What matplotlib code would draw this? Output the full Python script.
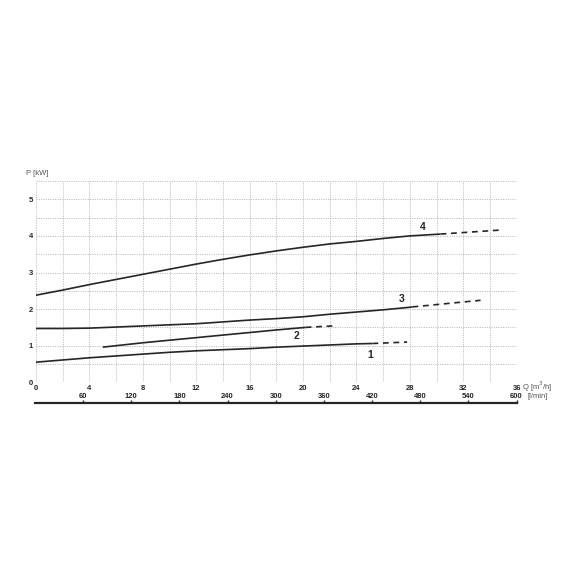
import numpy as np
import matplotlib
matplotlib.use('Agg')
import matplotlib.pyplot as plt

plt.rcParams['font.family'] = ['Liberation Sans', 'DejaVu Sans']

# curve readings: Q [m3/h], P [kW]
q1 = [0, 2, 4, 6, 8, 10, 12, 14, 16, 18, 20, 22, 24, 25.2]
p1 = [0.55, 0.61, 0.67, 0.72, 0.77, 0.82, 0.86, 0.89, 0.92, 0.96, 0.99, 1.02, 1.05, 1.06]
q1_ext = [25.2, 27.8]
p1_ext = [1.06, 1.10]

q2 = [5.0, 6, 8, 10, 12, 14, 16, 18, 20.2]
p2 = [0.96, 1.00, 1.08, 1.15, 1.22, 1.29, 1.36, 1.43, 1.50]
q2_ext = [20.2, 22.2]
p2_ext = [1.50, 1.54]

q3 = [0, 2, 4, 6, 8, 10, 12, 14, 16, 18, 20, 22, 24, 26, 28, 28.2]
p3 = [1.47, 1.47, 1.48, 1.51, 1.54, 1.57, 1.60, 1.65, 1.70, 1.74, 1.79, 1.86, 1.92, 1.98, 2.05, 2.06]
q3_ext = [28.2, 33.3]
p3_ext = [2.06, 2.24]

q4 = [0, 2, 4, 6, 8, 10, 12, 14, 16, 18, 20, 22, 24, 26, 28, 30.3]
p4 = [2.38, 2.52, 2.67, 2.81, 2.95, 3.09, 3.23, 3.36, 3.48, 3.59, 3.69, 3.78, 3.85, 3.93, 4.00, 4.05]
q4_ext = [30.3, 34.8]
p4_ext = [4.05, 4.16]

curve_names = ['1', '2', '3', '4']
label_q = [25.0, 19.5, 27.4, 29.0]
label_p = [0.74, 1.27, 2.28, 4.25]

q_ticks = list(range(0, 37, 4))
p_ticks = [0, 1, 2, 3, 4, 5]
lmin_ticks = list(range(60, 601, 60))

W = H = 570.0
fig = plt.figure(figsize=(5.7, 5.7), dpi=100)
ax = fig.add_axes([36 / W, 1 - 382.3 / H, 480.6 / W, 201.3 / H])

col = '#262626'
for q, p, qe, pe in [(q1, p1, q1_ext, p1_ext), (q2, p2, q2_ext, p2_ext),
                     (q3, p3, q3_ext, p3_ext), (q4, p4, q4_ext, p4_ext)]:
    ax.plot(q, p, color=col, lw=1.2, solid_capstyle='butt', solid_joinstyle='round')
    ax.plot(qe, pe, color=col, lw=1.2, dashes=(3.5, 2.8))

for name, x, y in zip(curve_names, label_q, label_p):
    ax.text(x, y, name, fontsize=7.5, fontweight='bold', ha='center', va='center', color=col)

ax.set_xlim(0, 36)
ax.set_ylim(0, 5.5)
ax.set_xticks(q_ticks)
ax.set_yticks(p_ticks)
ax.set_xticks(np.arange(0, 36.1, 2), minor=True)
ax.set_yticks(np.arange(0, 5.51, 0.5), minor=True)
ax.grid(which='both', color='#b4b4b4', ls=(0, (1.0, 1.4)), lw=0.7)
ax.tick_params(which='both', length=0, labelsize=5.5, pad=2, labelcolor=col)
for t in ax.get_xticklabels() + ax.get_yticklabels():
    t.set_fontweight('bold')
for s in ax.spines.values():
    s.set_visible(False)

fig.text(26 / W, 1 - 173 / H, 'P [kW]', fontsize=5.5, ha='left', va='center', color='#555555')
fig.text(522 / W, 1 - 387 / H, 'Q [m$^3$/h]', fontsize=5.5, ha='left', va='center', color='#555555')
fig.text(527 / W, 1 - 396.5 / H, '[l/min]', fontsize=5.5, ha='left', va='center', color='#555555')

# second scale in l/min
ax2 = fig.add_axes([35 / W, 1 - 403 / H, 481.6 / W, 0.0001])
ax2.set_xlim(0, 600)
ax2.set_yticks([])
for s in ['left', 'right', 'top']:
    ax2.spines[s].set_visible(False)
ax2.spines['bottom'].set_linewidth(1.6)
ax2.spines['bottom'].set_color(col)
ax2.patch.set_visible(False)
ax2.xaxis.tick_top()
ax2.set_xticks(lmin_ticks)
ax2.tick_params(axis='x', direction='out', length=2.2, width=1, pad=0.2, labelsize=5.5,
                color=col, labelcolor=col)
for t in ax2.get_xticklabels():
    t.set_fontweight('bold')

fig.savefig('out.png', dpi=100)
